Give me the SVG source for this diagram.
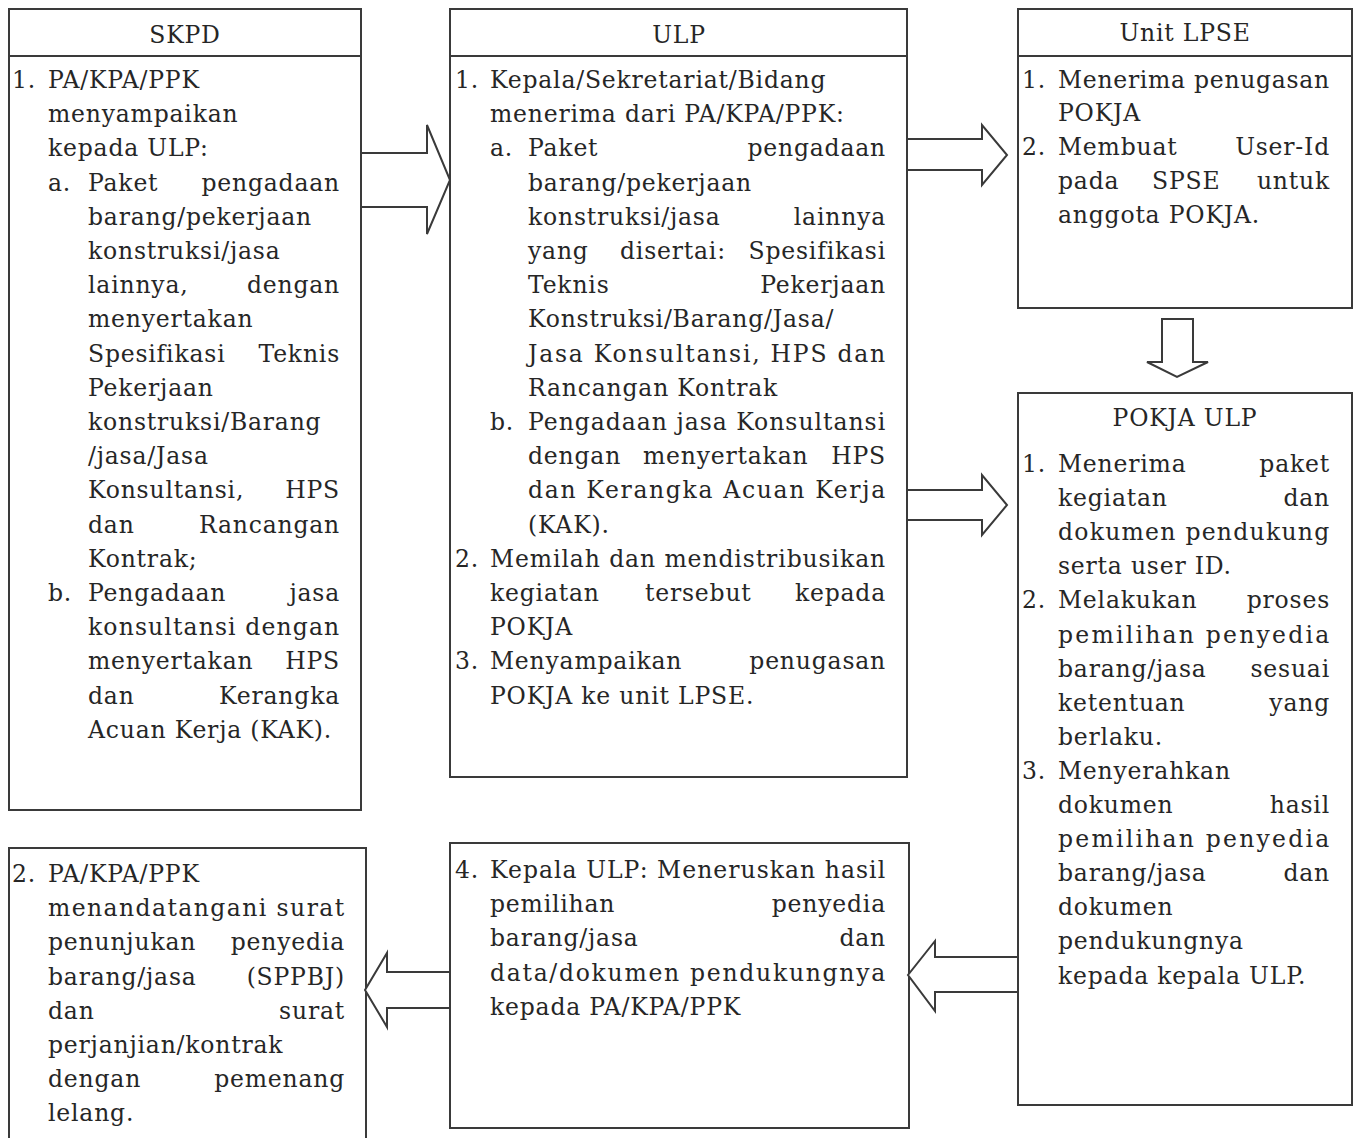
<svg xmlns="http://www.w3.org/2000/svg" width="1359" height="1138" viewBox="0 0 1359 1138">
<style>
.box{fill:#fff;stroke:#3a3a3a;stroke-width:2}
.ln{stroke:#3a3a3a;stroke-width:2}
.arr{fill:#fff;stroke:#3a3a3a;stroke-width:2;stroke-linejoin:miter}
text{font-family:"DejaVu Serif","Liberation Serif",serif;font-size:23.5px;letter-spacing:0.8px;fill:#262626}
.e{text-anchor:end}
.c{text-anchor:middle}
</style>
<rect width="1359" height="1138" fill="#fff"/>

<g id="skpd">
<rect class="box" x="9" y="9" width="352" height="801"/>
<line class="ln" x1="9" y1="56" x2="361" y2="56"/>
<text class="c" x="185" y="43">SKPD</text>
<text x="12" y="88">1.</text><text x="48" y="88">PA/KPA/PPK</text>
<text x="48" y="122.2">menyampaikan</text>
<text x="48" y="156.4">kepada ULP:</text>
<text x="48" y="190.6">a.</text><text x="88" y="190.6">Paket</text><text class="e" x="340" y="190.6">pengadaan</text>
<text x="88" y="224.8">barang/pekerjaan</text>
<text x="88" y="259">konstruksi/jasa</text>
<text x="88" y="293.2">lainnya,</text><text class="e" x="340" y="293.2">dengan</text>
<text x="88" y="327.4">menyertakan</text>
<text x="88" y="361.6">Spesifikasi</text><text class="e" x="340" y="361.6">Teknis</text>
<text x="88" y="395.8">Pekerjaan</text>
<text x="88" y="430">konstruksi/Barang</text>
<text x="88" y="464.2">/jasa/Jasa</text>
<text x="88" y="498.4">Konsultansi,</text><text class="e" x="340" y="498.4">HPS</text>
<text x="88" y="532.6">dan</text><text class="e" x="340" y="532.6">Rancangan</text>
<text x="88" y="566.8">Kontrak;</text>
<text x="48" y="601">b.</text><text x="88" y="601">Pengadaan</text><text class="e" x="340" y="601">jasa</text>
<text x="88" y="635.2" textLength="252" lengthAdjust="spacing">konsultansi dengan</text>
<text x="88" y="669.4">menyertakan</text><text class="e" x="340" y="669.4">HPS</text>
<text x="88" y="703.6">dan</text><text class="e" x="340" y="703.6">Kerangka</text>
<text x="88" y="737.8">Acuan Kerja (KAK).</text>
</g>

<g id="ulp">
<rect class="box" x="450" y="9" width="457" height="768"/>
<line class="ln" x1="450" y1="56" x2="907" y2="56"/>
<text class="c" x="679" y="43">ULP</text>
<text x="455" y="88">1.</text><text x="490" y="88">Kepala/Sekretariat/Bidang</text>
<text x="490" y="122.2">menerima dari PA/KPA/PPK:</text>
<text x="490" y="156.4">a.</text><text x="528" y="156.4">Paket</text><text class="e" x="886" y="156.4">pengadaan</text>
<text x="528" y="190.6">barang/pekerjaan</text>
<text x="528" y="224.8">konstruksi/jasa</text><text class="e" x="886" y="224.8">lainnya</text>
<text x="528" y="259">yang</text><text x="620" y="259">disertai:</text><text class="e" x="886" y="259">Spesifikasi</text>
<text x="528" y="293.2">Teknis</text><text class="e" x="886" y="293.2">Pekerjaan</text>
<text x="528" y="327.4">Konstruksi/Barang/Jasa/</text>
<text x="528" y="361.6" textLength="358" lengthAdjust="spacing">Jasa Konsultansi, HPS dan</text>
<text x="528" y="395.8">Rancangan Kontrak</text>
<text x="490" y="430">b.</text><text x="528" y="430" textLength="358" lengthAdjust="spacing">Pengadaan jasa Konsultansi</text>
<text x="528" y="464.2">dengan</text><text x="643" y="464.2">menyertakan</text><text class="e" x="886" y="464.2">HPS</text>
<text x="528" y="498.4" textLength="358" lengthAdjust="spacing">dan Kerangka Acuan Kerja</text>
<text x="528" y="532.6">(KAK).</text>
<text x="455" y="566.8">2.</text><text x="490" y="566.8" textLength="396" lengthAdjust="spacing">Memilah dan mendistribusikan</text>
<text x="490" y="601">kegiatan</text><text x="645" y="601">tersebut</text><text class="e" x="886" y="601">kepada</text>
<text x="490" y="635.2">POKJA</text>
<text x="455" y="669.4">3.</text><text x="490" y="669.4">Menyampaikan</text><text class="e" x="886" y="669.4">penugasan</text>
<text x="490" y="703.6">POKJA ke unit LPSE.</text>
</g>

<g id="lpse">
<rect class="box" x="1018" y="9" width="334" height="299"/>
<line class="ln" x1="1018" y1="56" x2="1352" y2="56"/>
<text class="c" x="1185" y="41">Unit LPSE</text>
<text x="1022" y="88">1.</text><text x="1058" y="88" textLength="272" lengthAdjust="spacing">Menerima penugasan</text>
<text x="1058" y="121">POKJA</text>
<text x="1022" y="155">2.</text><text x="1058" y="155">Membuat</text><text class="e" x="1330" y="155">User-Id</text>
<text x="1058" y="189">pada</text><text x="1152" y="189">SPSE</text><text class="e" x="1330" y="189">untuk</text>
<text x="1058" y="223">anggota POKJA.</text>
</g>

<g id="pokja">
<rect class="box" x="1018" y="393" width="334" height="712"/>
<text class="c" x="1185" y="426">POKJA ULP</text>
<text x="1022" y="472">1.</text><text x="1058" y="472">Menerima</text><text class="e" x="1330" y="472">paket</text>
<text x="1058" y="506.1">kegiatan</text><text class="e" x="1330" y="506.1">dan</text>
<text x="1058" y="540.2" textLength="272" lengthAdjust="spacing">dokumen pendukung</text>
<text x="1058" y="574.3">serta user ID.</text>
<text x="1022" y="608.4">2.</text><text x="1058" y="608.4">Melakukan</text><text class="e" x="1330" y="608.4">proses</text>
<text x="1058" y="642.5" textLength="272" lengthAdjust="spacing">pemilihan penyedia</text>
<text x="1058" y="676.6">barang/jasa</text><text class="e" x="1330" y="676.6">sesuai</text>
<text x="1058" y="710.7">ketentuan</text><text class="e" x="1330" y="710.7">yang</text>
<text x="1058" y="744.8">berlaku.</text>
<text x="1022" y="778.9">3.</text><text x="1058" y="778.9">Menyerahkan</text>
<text x="1058" y="813">dokumen</text><text class="e" x="1330" y="813">hasil</text>
<text x="1058" y="847.1" textLength="272" lengthAdjust="spacing">pemilihan penyedia</text>
<text x="1058" y="881.2">barang/jasa</text><text class="e" x="1330" y="881.2">dan</text>
<text x="1058" y="915.3">dokumen</text>
<text x="1058" y="949.4">pendukungnya</text>
<text x="1058" y="983.5">kepada kepala ULP.</text>
</g>

<g id="pa-kpa-ppk">
<rect class="box" x="9" y="848" width="357" height="300"/>
<text x="12" y="882">2.</text><text x="48" y="882">PA/KPA/PPK</text>
<text x="48" y="916.2" textLength="297" lengthAdjust="spacing">menandatangani surat</text>
<text x="48" y="950.4">penunjukan</text><text class="e" x="345" y="950.4">penyedia</text>
<text x="48" y="984.6">barang/jasa</text><text class="e" x="345" y="984.6">(SPPBJ)</text>
<text x="48" y="1018.8">dan</text><text class="e" x="345" y="1018.8">surat</text>
<text x="48" y="1053">perjanjian/kontrak</text>
<text x="48" y="1087.2">dengan</text><text class="e" x="345" y="1087.2">pemenang</text>
<text x="48" y="1121.4">lelang.</text>
</g>

<g id="kepala-ulp">
<rect class="box" x="450" y="843" width="459" height="285"/>
<text x="455" y="878">4.</text><text x="490" y="878" textLength="396" lengthAdjust="spacing">Kepala ULP: Meneruskan hasil</text>
<text x="490" y="912.2">pemilihan</text><text class="e" x="886" y="912.2">penyedia</text>
<text x="490" y="946.4">barang/jasa</text><text class="e" x="886" y="946.4">dan</text>
<text x="490" y="980.6" textLength="396" lengthAdjust="spacing">data/dokumen pendukungnya</text>
<text x="490" y="1014.8">kepada PA/KPA/PPK</text>
</g>

<g id="connectors">
<polygon class="arr" points="361,153 427,153 427,125 450,180 427,234 427,207 361,207"/>
<polygon class="arr" points="907,139 982,139 982,125 1007,155 982,185 982,170 907,170"/>
<polygon class="arr" points="1162,319 1193,319 1193,362 1208,362 1177,377 1147,362 1162,362"/>
<polygon class="arr" points="907,490 982,490 982,475 1007,505 982,535 982,520 907,520"/>
<polygon class="arr" points="1018,957 935,957 935,941 908,975 935,1011 935,992 1018,992"/>
<polygon class="arr" points="450,972 387,972 387,953 365,990 387,1027 387,1008 450,1008"/>
</g>
</svg>
